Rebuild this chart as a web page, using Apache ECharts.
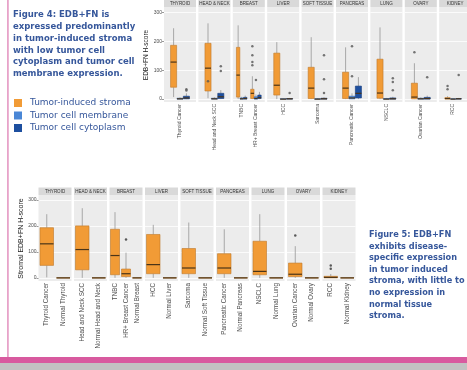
<!DOCTYPE html>
<html><head><meta charset="utf-8">
<script src="https://cdn.jsdelivr.net/npm/echarts@6/dist/echarts.min.js"></script>
<style>html,body{margin:0;padding:0;background:#fff}#c{width:467px;height:370px}</style>
</head><body><div id="c"></div>
<script>
// ---------- DATA ----------
const panelNames = ['THYROID','HEAD & NECK','BREAST','LIVER','SOFT TISSUE','PANCREAS','LUNG','OVARY','KIDNEY'];

// Figure 4 (top): tumor types and their facet
const topDiseases = ['Thyroid Cancer','Head and Neck SCC','TNBC','HR+ Breast Cancer','HCC','Sarcoma','Pancreatic Cancer','NSCLC','Ovarian Cancer','RCC'];
const topPanelIndex = [0,1,2,2,3,4,5,6,7,8];
// box stats: [min, Q1, median, Q3, max]
const stromaBoxes = [
  [7,41,128,186,245],[3,28,107,193,262],[0,7,83,179,255],[0,2,20,34,79],[0,14,48,159,197],
  [0,2,38,110,214],[0,2,38,93,179],[0,3,21,138,248],[0,1,7,55,124],[0,0,2,5,10]
];
const membraneBoxes = [
  [0,0,1,3,6],[0,0,1,3,6],[0,0,1,4,8],[0,0,2,8,16],[0,0,0,1,2],
  [0,0,0,1,3],[0,1,4,10,20],[0,0,0,2,4],[0,0,1,3,6],[0,0,0,1,2]
];
const cytoplasmBoxes = [
  [0,1,4,10,20],[0,2,8,20,31],[0,0,2,6,12],[0,2,5,14,25],[0,0,1,2,4],
  [0,0,1,3,6],[0,4,20,45,76],[0,0,1,4,8],[0,0,2,6,12],[0,0,1,2,4]
];
const stromaOutliers = [[],[62],[],[183,152,128,117],[],[],[],[],[162],[45,34]];
const membraneOutliers = [[],[],[],[66],[],[],[183,79],[],[],[]];
const cytoplasmOutliers = [[34,30],[114,97],[],[],[21],[152,69,21],[],[72,59,31],[76],[83]];
const topTicks = [0,100,200,300];

// Figure 5 (bottom)
const bottomGroups = ['Thyroid Cancer','Normal Thyroid','Head and Neck SCC','Normal Head and Neck','TNBC','HR+ Breast Cancer','Normal Breast',
  'HCC','Normal Liver','Sarcoma','Normal Soft Tissue','Pancreatic Cancer','Normal Pancreas','NSCLC','Normal Lung',
  'Ovarian Cancer','Normal Ovary','RCC','Normal Kidney'];
const bottomPanelIndex = [0,0,1,1,2,2,2,3,3,4,4,5,5,6,6,7,7,8,8];
const bottomBoxes = [
  [2,48,131,193,245],[0,0,0,0,0],[0,31,109,200,268],[0,0,0,0,0],[0,12,86,187,253],[0,5,16,34,97],[0,0,0,0,0],
  [0,16,51,167,204],[0,0,0,0,0],[0,16,38,113,213],[0,0,0,0,0],[0,16,38,93,187],[0,0,0,0,0],[0,12,25,141,245],[0,0,0,0,0],
  [0,5,14,57,122],[0,0,0,0,0],[0,0,2,6,15],[0,0,0,0,0]
];
const bottomOutliers = [[],[],[],[],[],[148],[],[],[],[],[],[],[],[],[],[163],[],[48,35],[]];
const bottomTicks = [0,100,200,300];

const legendNames = ['Tumor-induced stroma','Tumor cell membrane','Tumor cell cytoplasm'];
const fig4Lines = ['Figure 4: EDB+FN is','expressed predominantly','in tumor-induced stroma','with low tumor cell','cytoplasm and tumor cell','membrane expression.'];
const fig5Lines = ['Figure 5: EDB+FN','exhibits disease-','specific expression','in tumor induced','stroma, with little to','no expression in','normal tissue','stroma.'];

// ---------- STYLE ----------
const compColors = ['#f19b36','#4a87d6','#1d4f9f'];
const compStroke = ['#c0782a','#2d62ad','#143b7a'];
const textBlue = '#36579b';

const chart = echarts.init(document.getElementById('c'));
const grids = [], xAxes = [], yAxes = [], series = [], graphics = [];

function boxRenderer(widthFrac) {
  return function (params, api) {
    const ci = api.value(0), comp = api.value(6);
    const band = api.size([1, 0])[0];
    const w = band * widthFrac;
    const pLo = api.coord([ci, api.value(1)]);
    const pQ1 = api.coord([ci, api.value(2)]);
    const pMed = api.coord([ci, api.value(3)]);
    const pQ3 = api.coord([ci, api.value(4)]);
    const pHi = api.coord([ci, api.value(5)]);
    const cx = pMed[0];
    const wl = {stroke: '#8a8a8a', lineWidth: 0.7};
    return {type: 'group', children: [
      {type: 'line', shape: {x1: cx, y1: pHi[1], x2: cx, y2: pQ3[1]}, style: wl},
      {type: 'line', shape: {x1: cx, y1: pQ1[1], x2: cx, y2: pLo[1]}, style: wl},
      {type: 'rect', shape: {x: cx - w / 2, y: pQ3[1], width: w, height: Math.max(pQ1[1] - pQ3[1], 0)},
        style: {fill: compColors[comp], stroke: compStroke[comp], lineWidth: 0.6}},
      {type: 'line', shape: {x1: cx - w / 2, y1: pMed[1], x2: cx + w / 2, y2: pMed[1]},
        style: {stroke: '#4a3418', lineWidth: 1.2}}
    ]};
  };
}

function addStrip(left, top, width, name) {
  graphics.push({type: 'rect', shape: {x: left, y: top - 8.5, width: width, height: 8}, style: {fill: '#d9d9d9'}, silent: true});
  graphics.push({type: 'text', x: left + width / 2, y: top - 4.5, silent: true,
    style: {text: name, fontSize: 4.5, fontFamily: 'Liberation Sans', fill: '#333', align: 'center', verticalAlign: 'middle'}});
}

// ---------- TOP FACETS (Figure 4) ----------
const topLayout = {left: 164, pitch: 34.4, width: 32, top: 8, height: 94};
const compBoxes = [stromaBoxes, membraneBoxes, cytoplasmBoxes];
const compOut = [stromaOutliers, membraneOutliers, cytoplasmOutliers];
const compKey = ['s', 'm', 'c'];
panelNames.forEach(function (pname, p) {
  const g = grids.length;
  const left = topLayout.left + p * topLayout.pitch;
  grids.push({left: left, top: topLayout.top, width: topLayout.width, height: topLayout.height,
    show: true, backgroundColor: '#ececec', borderWidth: 0});
  const cats = ['pad0'];
  const boxData = [], ptData = [];
  let j = 0;
  topDiseases.forEach(function (d, di) {
    if (topPanelIndex[di] !== p) return;
    for (let k = 0; k < 3; k++) {
      const ci = cats.length;
      cats.push(d + '|' + compKey[k]);
      boxData.push([ci].concat(compBoxes[k][di]).concat([k]));
      compOut[k][di].forEach(function (v) { ptData.push([ci, v]); });
    }
    j++;
    cats.push('pad' + j);
  });
  xAxes.push({type: 'category', gridIndex: g, data: cats, axisLine: {show: false}, axisTick: {show: false}, splitLine: {show: false},
    axisLabel: {interval: 0, rotate: 90, fontSize: 5, margin: 2, color: '#4d4d4d', fontFamily: 'Liberation Sans',
      formatter: function (v) { return v.slice(-2) === '|m' ? v.slice(0, -2) : ''; }}});
  yAxes.push({type: 'value', gridIndex: g, min: -10, max: 315,
    name: p === 0 ? 'EDB+FN H-score' : '', nameLocation: 'middle', nameGap: 11,
    nameTextStyle: {fontSize: 6.5, color: '#222', fontFamily: 'Liberation Sans'},
    axisLine: {show: false},
    axisTick: {show: p === 0, length: 2, customValues: topTicks, lineStyle: {color: '#555', width: 0.6}},
    axisLabel: {show: p === 0, customValues: topTicks, fontSize: 5, margin: 2, color: '#4d4d4d', fontFamily: 'Liberation Sans'},
    splitLine: {show: true, lineStyle: {color: '#ffffff', width: 0.8}}});
  series.push({type: 'custom', xAxisIndex: g, yAxisIndex: g, renderItem: boxRenderer(0.95),
    encode: {x: 0, y: [1, 2, 3, 4, 5]}, data: boxData, silent: true});
  series.push({type: 'scatter', xAxisIndex: g, yAxisIndex: g, data: ptData, symbolSize: 2.5,
    itemStyle: {color: '#555'}, silent: true});
  addStrip(left, topLayout.top, topLayout.width, pname);
});

// ---------- BOTTOM FACETS (Figure 5) ----------
const botLayout = {left: 38.5, pitch: 35.5, width: 33, top: 196, height: 85};
panelNames.forEach(function (pname, p) {
  const g = grids.length;
  const left = botLayout.left + p * botLayout.pitch;
  grids.push({left: left, top: botLayout.top, width: botLayout.width, height: botLayout.height,
    show: true, backgroundColor: '#ececec', borderWidth: 0});
  const cats = [], boxData = [], ptData = [];
  bottomGroups.forEach(function (gname, gi) {
    if (bottomPanelIndex[gi] !== p) return;
    const ci = cats.length;
    cats.push(gname);
    boxData.push([ci].concat(bottomBoxes[gi]).concat([0]));
    bottomOutliers[gi].forEach(function (v) { ptData.push([ci, v]); });
  });
  xAxes.push({type: 'category', gridIndex: g, data: cats, axisLine: {show: false}, axisTick: {show: false}, splitLine: {show: false},
    axisLabel: {interval: 0, rotate: 90, fontSize: 6.3, margin: 2, color: '#4d4d4d', fontFamily: 'Liberation Sans'}});
  yAxes.push({type: 'value', gridIndex: g, min: -12, max: 315,
    name: p === 0 ? 'Stromal EDB+FN H-score' : '', nameLocation: 'middle', nameGap: 14,
    nameTextStyle: {fontSize: 7, color: '#222', fontFamily: 'Liberation Sans'},
    axisLine: {show: false},
    axisTick: {show: p === 0, length: 2, customValues: bottomTicks, lineStyle: {color: '#555', width: 0.6}},
    axisLabel: {show: p === 0, customValues: bottomTicks, fontSize: 5, margin: 2, color: '#4d4d4d', fontFamily: 'Liberation Sans'},
    splitLine: {show: true, lineStyle: {color: '#ffffff', width: 0.8}}});
  series.push({type: 'custom', xAxisIndex: g, yAxisIndex: g, renderItem: boxRenderer(0.82),
    encode: {x: 0, y: [1, 2, 3, 4, 5]}, data: boxData, silent: true});
  series.push({type: 'scatter', xAxisIndex: g, yAxisIndex: g, data: ptData, symbolSize: 2.5,
    itemStyle: {color: '#333'}, silent: true});
  addStrip(left, botLayout.top, botLayout.width, pname);
});

// legend-only series
legendNames.forEach(function (n, k) {
  series.push({type: 'bar', name: n, xAxisIndex: 0, yAxisIndex: 0, data: [], itemStyle: {color: compColors[k]}});
});

// poster frame
graphics.push({type: 'rect', shape: {x: 7, y: 0, width: 1.8, height: 358}, style: {fill: '#e7a3c9'}, silent: true});
graphics.push({type: 'rect', shape: {x: 0, y: 357, width: 467, height: 6}, style: {fill: '#d85a9f'}, silent: true});
graphics.push({type: 'rect', shape: {x: 0, y: 363, width: 467, height: 7}, style: {fill: '#c2c2c2'}, silent: true});

chart.setOption({
  animation: false,
  backgroundColor: '#ffffff',
  title: [
    {text: fig4Lines.join('\n'), left: 13, top: 9, padding: 0,
      textStyle: {fontFamily: 'DejaVu Sans', fontWeight: 'bold', fontSize: 8.5, lineHeight: 11.8, color: textBlue}},
    {text: fig5Lines.join('\n'), left: 369, top: 229, padding: 0,
      textStyle: {fontFamily: 'DejaVu Sans', fontWeight: 'bold', fontSize: 8.2, lineHeight: 11.6, color: textBlue}}
  ],
  legend: {data: legendNames, left: 14, top: 98.5, orient: 'vertical', icon: 'rect', itemWidth: 8, itemHeight: 8,
    itemGap: 3.5, padding: 0, selectedMode: false,
    textStyle: {fontFamily: 'DejaVu Sans', fontSize: 9, lineHeight: 9, color: textBlue, padding: [0, 0, 0, 3]}},
  grid: grids, xAxis: xAxes, yAxis: yAxes, series: series, graphic: graphics
});
</script></body></html>
